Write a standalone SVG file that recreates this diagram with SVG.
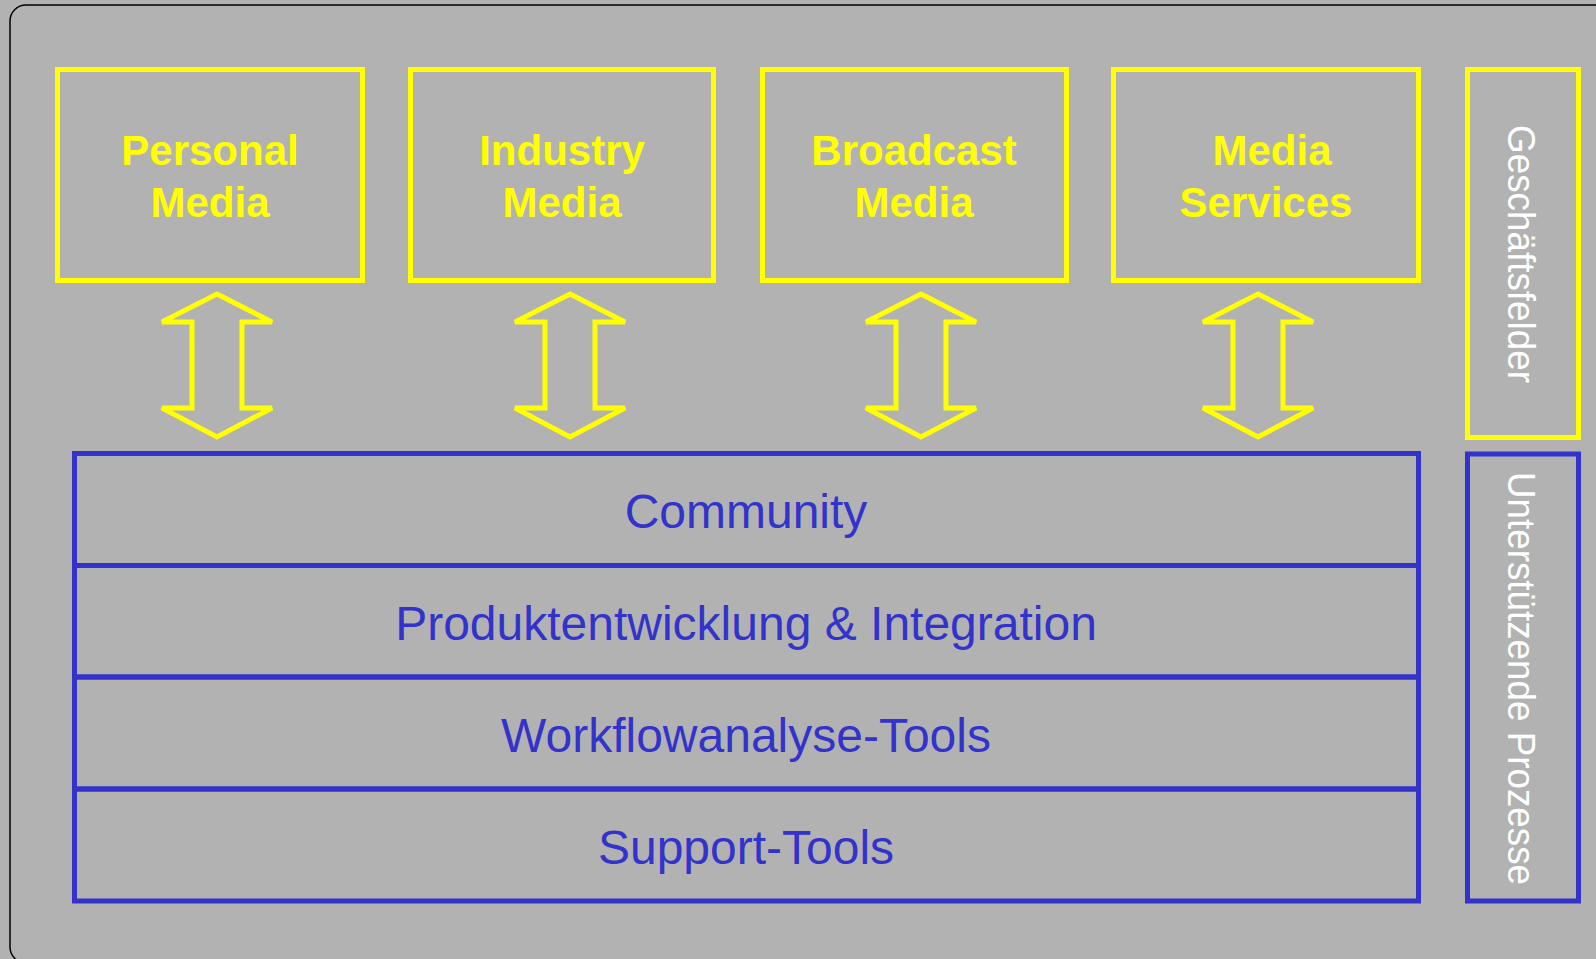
<svg xmlns="http://www.w3.org/2000/svg" width="1596" height="959" viewBox="0 0 1596 959">
<style>
.bg{fill:#b2b2b2}
.frame{fill:#b2b2b2;stroke:#000;stroke-width:1.5}
.ybox{fill:none;stroke:#ffff00;stroke-width:5}
.bbox{fill:none;stroke:#3333cc;stroke-width:5}
.ytxt{font-family:"Liberation Sans",Arial,sans-serif;font-weight:bold;font-size:42px;fill:#ffff00;text-anchor:middle}
.btxt{font-family:"Liberation Sans",Arial,sans-serif;font-size:48px;fill:#3333cc;text-anchor:middle}
.vtxt{font-family:"Liberation Sans",Arial,sans-serif;font-size:39px;fill:#ffffff;text-anchor:middle}
.arrow{fill:none;stroke:#ffff00;stroke-width:5;stroke-linejoin:miter}
</style>
<defs>
<path id="dblarrow" d="M0,294 L55,322 L25,322 L25,408 L55,408 L0,437 L-55,408 L-25,408 L-25,322 L-55,322 Z"/>
</defs>
<rect class="bg" x="0" y="0" width="1596" height="959"/>
<rect class="frame" x="10" y="5" width="1620" height="958" rx="16" ry="16"/>

<g id="personal-media">
<rect class="ybox" x="57.5" y="69.5" width="305" height="211"/>
<text class="ytxt" x="210" y="165">Personal</text>
<text class="ytxt" x="210" y="217">Media</text>
</g>
<g id="industry-media">
<rect class="ybox" x="410.5" y="69.5" width="303" height="211"/>
<text class="ytxt" x="562" y="165">Industry</text>
<text class="ytxt" x="562" y="217">Media</text>
</g>
<g id="broadcast-media">
<rect class="ybox" x="762.5" y="69.5" width="304" height="211"/>
<text class="ytxt" x="914" y="165">Broadcast</text>
<text class="ytxt" x="914" y="217">Media</text>
</g>
<g id="media-services">
<rect class="ybox" x="1113.5" y="69.5" width="305" height="211"/>
<text class="ytxt" x="1272" y="165">Media</text>
<text class="ytxt" x="1266" y="217">Services</text>
</g>

<g id="geschaeftsfelder">
<rect class="ybox" x="1467.5" y="69.5" width="111" height="368"/>
<text class="vtxt" transform="translate(1508,254) rotate(90)" x="0" y="0" textLength="258" lengthAdjust="spacingAndGlyphs">Geschäftsfelder</text>
</g>

<g id="connectors">
<use href="#dblarrow" class="arrow" transform="translate(217,0)"/>
<use href="#dblarrow" class="arrow" transform="translate(570,0)"/>
<use href="#dblarrow" class="arrow" transform="translate(921,0)"/>
<use href="#dblarrow" class="arrow" transform="translate(1258,0)"/>
</g>

<g id="community">
<rect class="bbox" x="74.5" y="453.5" width="1344" height="112"/>
<text class="btxt" x="746" y="528">Community</text>
</g>
<g id="produktentwicklung">
<rect class="bbox" x="74.5" y="565.5" width="1344" height="111.5"/>
<text class="btxt" x="746" y="640">Produktentwicklung &amp; Integration</text>
</g>
<g id="workflowanalyse">
<rect class="bbox" x="74.5" y="677" width="1344" height="112"/>
<text class="btxt" x="746" y="752">Workflowanalyse-Tools</text>
</g>
<g id="support-tools">
<rect class="bbox" x="74.5" y="789" width="1344" height="112"/>
<text class="btxt" x="746" y="864">Support-Tools</text>
</g>

<g id="unterstuetzende-prozesse">
<rect class="bbox" x="1467.5" y="454" width="111" height="447"/>
<text class="vtxt" transform="translate(1508,678.5) rotate(90)" x="0" y="0" textLength="413" lengthAdjust="spacingAndGlyphs">Unterstützende Prozesse</text>
</g>
</svg>
